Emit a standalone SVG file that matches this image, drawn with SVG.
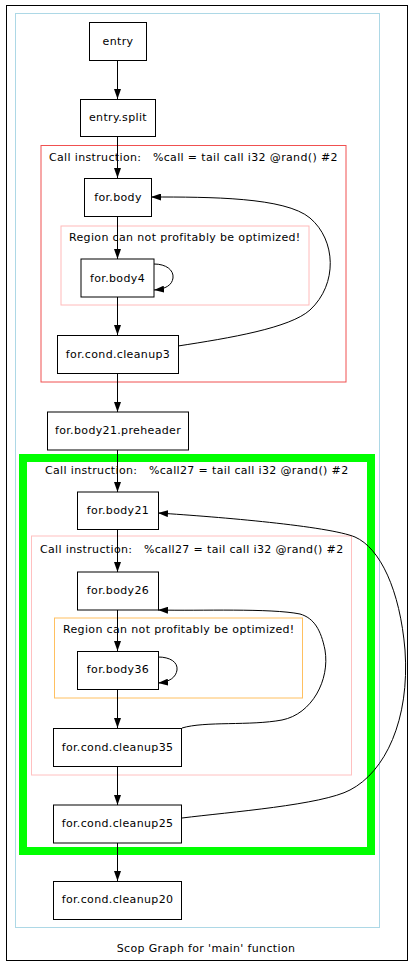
<svg xmlns="http://www.w3.org/2000/svg" width="414" height="967" viewBox="0 0 414 967">
<defs>
<marker id="ah" viewBox="0 0 10 7" refX="10" refY="3.5" markerWidth="10" markerHeight="7" markerUnits="userSpaceOnUse" orient="auto">
<path d="M0,0 L10,3.5 L0,7 Z" fill="#000"/>
</marker>
</defs>
<style>
text{font-family:"DejaVu Sans",sans-serif;font-size:11px;fill:#000;white-space:pre;letter-spacing:0.35px}
.n rect{fill:#fff;stroke:#000;stroke-width:1}
.n text{text-anchor:middle}
.cl{fill:none}
.e{fill:none;stroke:#000;stroke-width:1;marker-end:url(#ah)}
</style>
<rect x="0" y="0" width="414" height="967" fill="#fff"/>
<rect x="6.5" y="5.5" width="401" height="955" fill="none" stroke="#000" stroke-width="1"/>
<g id="clusters">
<rect class="cl" x="15.5" y="13.5" width="364" height="914" stroke="#add8e6"/>
<rect class="cl" x="41" y="145.5" width="305" height="236.5" stroke="#f05050"/>
<text x="49" y="161">Call instruction:   %call = tail call i32 @rand() #2</text>
<rect class="cl" x="61" y="226" width="248" height="79" stroke="#ffbaba"/>
<text x="69" y="241">Region can not profitably be optimized!</text>
<rect class="cl" x="23" y="458" width="348" height="393" stroke="#00ff00" stroke-width="8"/>
<text x="45" y="474">Call instruction:   %call27 = tail call i32 @rand() #2</text>
<rect class="cl" x="31.5" y="536" width="320" height="239" stroke="#ffc0c0"/>
<text x="40" y="553">Call instruction:   %call27 = tail call i32 @rand() #2</text>
<rect class="cl" x="54.5" y="618" width="248" height="80" stroke="#ffc060"/>
<text x="63" y="633">Region can not profitably be optimized!</text>
</g>
<g id="connectors">
<path class="e" d="M117.5,60 L117.5,99"/>
<path class="e" d="M117.5,136 L117.5,178"/>
<path class="e" d="M117.5,216 L117.5,259"/>
<path class="e" d="M154,264 C166,264 174,270 173,278 C172,285 166,289 154,290"/>
<path class="e" d="M117.5,297 L117.5,335"/>
<path class="e" d="M178,346 C230,338 290,328 310,310 C338,284 336,240 310,218 C285,197 210,197 151,197"/>
<path class="e" d="M117.5,373 L117.5,412"/>
<path class="e" d="M117.5,450 L117.5,492"/>
<path class="e" d="M117.5,529 L117.5,572"/>
<path class="e" d="M117.5,610 L117.5,651"/>
<path class="e" d="M158,657 C170,657 178,662 177,670 C176,677 170,682 158,683"/>
<path class="e" d="M117.5,689 L117.5,728"/>
<path class="e" d="M182,728 C205,721 250,726 282,720 C312,714 330,680 325,650 C321,630 314,618 300,614 C270,608 200,611 158,610"/>
<path class="e" d="M117.5,766 L117.5,805"/>
<path class="e" d="M182,818 C230,812 322,805 350,790 C385,772 410,720 405,650 C400,590 380,548 355,537 C328,526 220,517 158,513"/>
<path class="e" d="M117.5,843 L117.5,881"/>
</g>
<g id="entry" class="n"><rect x="89.5" y="22.5" width="57" height="38"/><text x="118" y="45">entry</text></g>
<g id="entry_split" class="n"><rect x="80.5" y="99.5" width="75" height="37"/><text x="118" y="121">entry.split</text></g>
<g id="for_body" class="n"><rect x="84.5" y="178.5" width="67" height="38"/><text x="118" y="201">for.body</text></g>
<g id="for_body4" class="n"><rect x="81" y="259" width="73" height="38"/><text x="117.5" y="282">for.body4</text></g>
<g id="for_cond_cleanup3" class="n"><rect x="57.5" y="335.5" width="121" height="38"/><text x="118" y="358">for.cond.cleanup3</text></g>
<g id="for_body21_preheader" class="n"><rect x="47.5" y="412" width="141" height="38"/><text x="118" y="434">for.body21.preheader</text></g>
<g id="for_body21" class="n"><rect x="77.5" y="492" width="81" height="37.5"/><text x="118" y="514">for.body21</text></g>
<g id="for_body26" class="n"><rect x="77.5" y="572" width="81" height="38"/><text x="118" y="594">for.body26</text></g>
<g id="for_body36" class="n"><rect x="77.5" y="651.5" width="81" height="38"/><text x="118" y="673">for.body36</text></g>
<g id="for_cond_cleanup35" class="n"><rect x="53.5" y="728.5" width="128" height="38"/><text x="117.5" y="751">for.cond.cleanup35</text></g>
<g id="for_cond_cleanup25" class="n"><rect x="53.5" y="805" width="128" height="38"/><text x="117.5" y="827">for.cond.cleanup25</text></g>
<g id="for_cond_cleanup20" class="n"><rect x="53.5" y="881.5" width="128" height="38"/><text x="117.5" y="903">for.cond.cleanup20</text></g>
<text x="206" y="952" text-anchor="middle">Scop Graph for 'main' function</text>
</svg>
